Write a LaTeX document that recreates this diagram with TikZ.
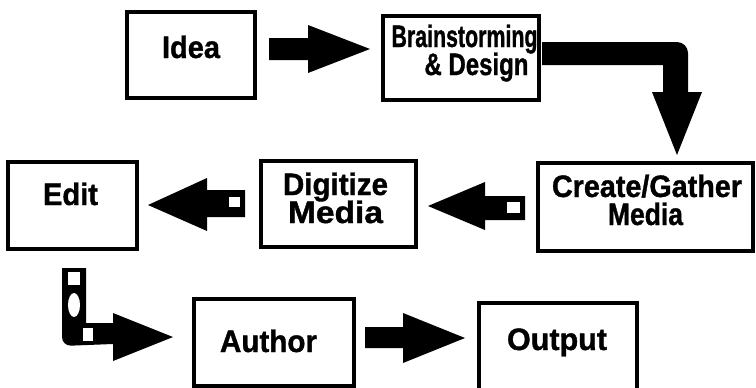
\documentclass[tikz,border=0pt]{standalone}
\usepackage{fontspec}
\setmainfont{Liberation Sans}[BoldFeatures={FakeBold=1.2}]
\usepackage{graphicx}
\begin{document}
\begin{tikzpicture}[x=1pt,y=-1pt,
  box/.style={draw=black,line width=3.5pt,minimum width=#1,inner sep=0pt,outer sep=0pt},
  hgt/.style={minimum height=#1},
  lbl/.style={inner sep=0pt,outer sep=0pt,anchor=base,font=\fontsize{31}{31}\selectfont\bfseries},
  arrowfill/.style={fill=black,draw=none},
  hole/.style={fill=white,draw=none}]
\useasboundingbox (0,0) rectangle (756,388);
% boxes
\node[box=128pt,hgt=86pt] (idea) at (191,55) {};
\node[box=156pt,hgt=84pt] (brain) at (461,58) {};
\node[box=215pt,hgt=88pt] (create) at (645.5,207) {};
\node[box=129pt,hgt=87pt] (edit) at (72.5,205.5) {};
\node[box=155pt,hgt=86pt] (digit) at (338.5,204) {};
\node[box=160pt,hgt=87pt] (author) at (274,342.5) {};
\node[box=158pt,hgt=88pt] (output) at (558,347) {};
% labels
\node[lbl] (ideaT) at (191,58) {\resizebox{58pt}{\height}{Idea}};
\node[lbl] (brainT1) at (464.5,47) {\resizebox{146pt}{\height}{Brainstorming}};
\node[lbl] (brainT2) at (476.5,75) {\resizebox{104pt}{\height}{\& Design}};
\node[lbl] (createT1) at (647,197) {\resizebox{190pt}{\height}{Create/Gather}};
\node[lbl] (createT2) at (645.5,225) {\resizebox{75pt}{\height}{Media}};
\node[lbl] (editT) at (70.5,205) {\resizebox{55pt}{\height}{Edit}};
\node[lbl] (digitT1) at (335.5,195) {\resizebox{105pt}{\height}{Digitize}};
\node[lbl] (digitT2) at (335.5,223) {\resizebox{95pt}{\height}{Media}};
\node[lbl] (authorT) at (268.5,352) {\resizebox{97pt}{\height}{Author}};
\node[lbl] (outputT) at (557,350) {\resizebox{100pt}{\height}{Output}};
% arrow Idea -> Brainstorming
\fill[arrowfill] (269,38) -- (308,38) -- (308,25) -- (370,49) -- (308,73) -- (308,60) -- (269,60) -- cycle;
% arrow Brainstorming -> Create (bent)
\fill[arrowfill] (542,42) [rounded corners=11pt] -- (688,42) [sharp corners] -- (688,92) -- (702,92) -- (677,155) -- (652,92) -- (663,92) -- (663,65) -- (542,65) -- cycle;
% arrow Create -> Digitize
\fill[arrowfill] (525,196) -- (485,196) -- (485,182) -- (428,206) -- (485,230) -- (485,220) -- (525,220) -- cycle;
\fill[hole] (507,202) rectangle (520,213);
% arrow Digitize -> Edit
\fill[arrowfill] (245,190) -- (207,190) -- (207,178) -- (148,205) -- (207,231) -- (207,217) -- (245,217) -- cycle;
\fill[hole] (229,197) rectangle (240,207);
% arrow Edit -> Author (bent)
\fill[arrowfill] (62,268) -- (86,268) -- (86,323) -- (113,323) -- (113,313) -- (173,337) -- (113,361) -- (113,344) [rounded corners=9pt] -- (62,346) [sharp corners] -- cycle;
\fill[hole] (68,272) rectangle (80,285);
\fill[hole] (74,305) ellipse [x radius=6pt, y radius=12pt];
\fill[hole] (83,328) rectangle (93,341);
% arrow Author -> Output
\fill[arrowfill] (365,327) -- (403,327) -- (403,313) -- (465,338) -- (403,363) -- (403,348) -- (365,348) -- cycle;
\end{tikzpicture}
\end{document}
